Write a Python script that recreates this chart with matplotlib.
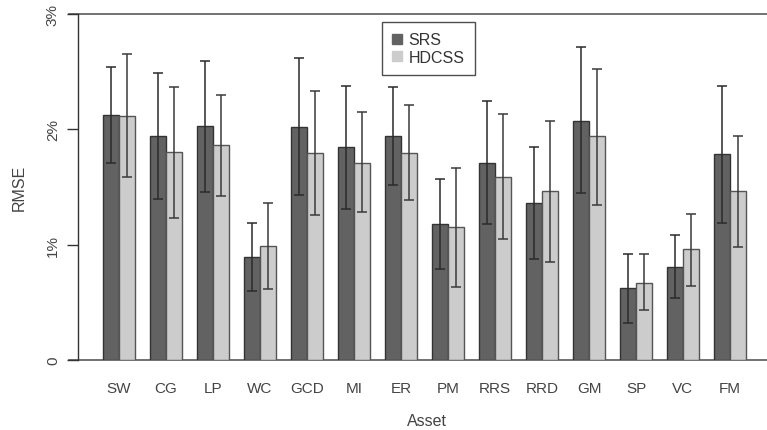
import matplotlib
matplotlib.use("Agg")
import matplotlib.pyplot as plt
import numpy as np
from matplotlib.lines import Line2D

plt.rcParams['font.family'] = ['Liberation Sans', 'DejaVu Sans']

assets = ["SW", "CG", "LP", "WC", "GCD", "MI", "ER", "PM", "RRS", "RRD", "GM", "SP", "VC", "FM"]
srs = [2.12, 1.94, 2.03, 0.89, 2.02, 1.85, 1.94, 1.18, 1.71, 1.365, 2.07, 0.62, 0.81, 1.79]
srs_lo = [1.71, 1.40, 1.46, 0.60, 1.43, 1.31, 1.52, 0.79, 1.18, 0.88, 1.45, 0.32, 0.54, 1.19]
srs_hi = [2.54, 2.49, 2.59, 1.19, 2.62, 2.38, 2.37, 1.57, 2.245, 1.85, 2.71, 0.92, 1.08, 2.38]
hdcss = [2.115, 1.80, 1.86, 0.99, 1.795, 1.71, 1.795, 1.15, 1.59, 1.466, 1.94, 0.67, 0.96, 1.466]
hdcss_lo = [1.59, 1.235, 1.42, 0.615, 1.26, 1.28, 1.385, 0.635, 1.05, 0.85, 1.345, 0.43, 0.645, 0.98]
hdcss_hi = [2.65, 2.37, 2.30, 1.36, 2.33, 2.15, 2.21, 1.665, 2.13, 2.07, 2.52, 0.92, 1.27, 1.945]
yticks = [0, 1, 2, 3]
ytick_labels = ["0", "1%", "2%", "3%"]

W, H = 767, 431
fig = plt.figure(figsize=(W / 100, H / 100), dpi=100)
left_px, right_px, top_px, bot_px = 78, 767, 15, 361
ax = fig.add_axes([left_px / W, 1 - bot_px / H, (right_px - left_px) / W, (bot_px - top_px) / H])

x = np.arange(len(assets))
bw = 0.34
dark = "#626262"
light = "#cccccc"
xd = x - bw / 2
xl = x + bw / 2
ax.bar(xd, srs, width=bw, color=dark, edgecolor="#333333", linewidth=1.0, zorder=2)
ax.bar(xl, hdcss, width=bw, color=light, edgecolor="#555555", linewidth=1.0, zorder=2)

srs_a = np.array(srs); hd_a = np.array(hdcss)
ax.errorbar(xd, srs_a, yerr=[srs_a - np.array(srs_lo), np.array(srs_hi) - srs_a],
            fmt="none", ecolor="#2a2a2a", elinewidth=1.1, capsize=3.5, capthick=1.1, zorder=3)
ax.errorbar(xl, hd_a, yerr=[hd_a - np.array(hdcss_lo), np.array(hdcss_hi) - hd_a],
            fmt="none", ecolor="#3a3a3a", elinewidth=1.1, capsize=3.5, capthick=1.1, zorder=3)

ax.set_ylim(0, 3)
spacing = 47.0
ax.set_xlim(-(119 - left_px) / spacing, -(119 - left_px) / spacing + (right_px - left_px) / spacing)

for s in ["top", "right", "bottom"]:
    ax.spines[s].set_visible(False)
ax.spines["left"].set_color("#333333")
ax.spines["left"].set_linewidth(1.0)

# horizontal lines at 0 and 3% extending to the tick region
ext = (left_px - 69) / (right_px - left_px)
for yv in (0.0, 1.0):
    ax.add_line(Line2D([-ext, 1.0], [yv, yv], transform=ax.transAxes, color="#666666",
                       linewidth=1.3, clip_on=False, zorder=1))

ax.set_yticks(yticks)
ax.set_yticklabels(ytick_labels, rotation=90, va="center", fontsize=11, color="#444444")
ax.tick_params(axis="y", length=8, width=1.0, color="#333333", pad=5)
ax.set_xticks(x)
ax.set_xticklabels(assets, fontsize=11, color="#444444")
ax.tick_params(axis="x", length=0, pad=15)

ax.set_xlabel("Asset", fontsize=11.5, color="#444444", labelpad=13)
ax.xaxis.label.set_x((427 - left_px) / (right_px - left_px))
ax.set_ylabel("RMSE", fontsize=11.5, color="#444444", labelpad=14)

handles = [Line2D([], [], marker="s", linestyle="none", markersize=6.5, color=dark),
           Line2D([], [], marker="s", linestyle="none", markersize=6.5, color=light)]
leg = ax.legend(handles, ["SRS", "HDCSS"], loc="upper left",
                bbox_to_anchor=((382 - left_px) / (right_px - left_px), 1 - (23 - top_px) / (bot_px - top_px)),
                fontsize=11.5, frameon=True, fancybox=False, handlelength=0.6, handletextpad=0.4,
                borderpad=0.65, labelspacing=0.15, borderaxespad=0)
leg.get_frame().set_edgecolor("#222222")
leg.get_frame().set_linewidth(1.0)
for t in leg.get_texts():
    t.set_color("#333333")

fig.savefig("out.png", dpi=100)
